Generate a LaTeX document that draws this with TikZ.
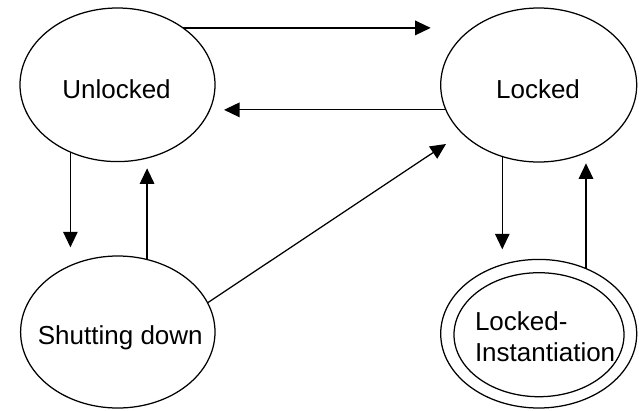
\documentclass[tikz,border=0pt]{standalone}
\usepackage{fontspec}
\setmainfont{Liberation Sans}
\usetikzlibrary{shapes.geometric,arrows.meta}

\tikzset{
  state/.style={ellipse, draw, line width=1.25pt, inner sep=0pt, outer sep=0pt},
  lbl/.style={font=\fontsize{26}{31.7}\selectfont, inner sep=0pt, outer sep=0pt},
  arr/.style={line width=1.25pt, -{Triangle[length=15.5pt,width=14.5pt]}}
}

\begin{document}
\begin{tikzpicture}[x=1pt, y=-1pt]
  \useasboundingbox[fill=white] (0,0) rectangle (639,410);

  % states
  \node[state, minimum width=195pt, minimum height=153.6pt] (U) at (117.5,84.8) {};
  \node[state, minimum width=196pt, minimum height=154pt]   (L) at (538.7,85) {};
  \node[state, minimum width=194.4pt, minimum height=152pt] (S) at (117.8,332) {};
  \node[state, minimum width=196pt, minimum height=148.6pt] (LI) at (538.7,333.7) {};
  \node[state, minimum width=170pt, minimum height=124pt]   (LIin) at (539,334.7) {};

  % state names
  \node[lbl, anchor=base] (Utext) at (116.5,98.3) {Unlocked};
  \node[lbl, anchor=base] (Ltext) at (538,98) {Locked};
  \node[lbl, anchor=base] (Stext) at (120.3,344.7) {Shutting down};
  % the base anchor of a two-line node sits on its last line
  \node[lbl, anchor=base west, align=left] (LItext) at (475,361.7) {Locked-\\Instantiation};

  % free arrow ends
  \coordinate (tUL) at (430.7,27.3);
  \coordinate (tLU) at (224,110);
  \coordinate (tUS) at (71,247.3);
  \coordinate (tSU) at (146.7,168.3);
  \coordinate (tSL) at (446,144);
  \coordinate (tLLI) at (503.3,249.3);
  \coordinate (tLIL) at (586,163.3);

  % transitions
  \draw[arr] (U.41.8) -- (U.41.8 -| tUL);
  \draw[arr] (L.195) -- (L.195 -| tLU);
  \draw[arr] (U.235.4) -- (U.235.4 |- tUS);
  \draw[arr] (S.68.3) -- (S.68.3 |- tSU);
  \draw[arr] (S.18.8) -- (tSL);
  \draw[arr] (L.243.8) -- (L.243.8 |- tLLI);
  \draw[arr] (LI.54) -- (LI.54 |- tLIL);
\end{tikzpicture}
\end{document}
